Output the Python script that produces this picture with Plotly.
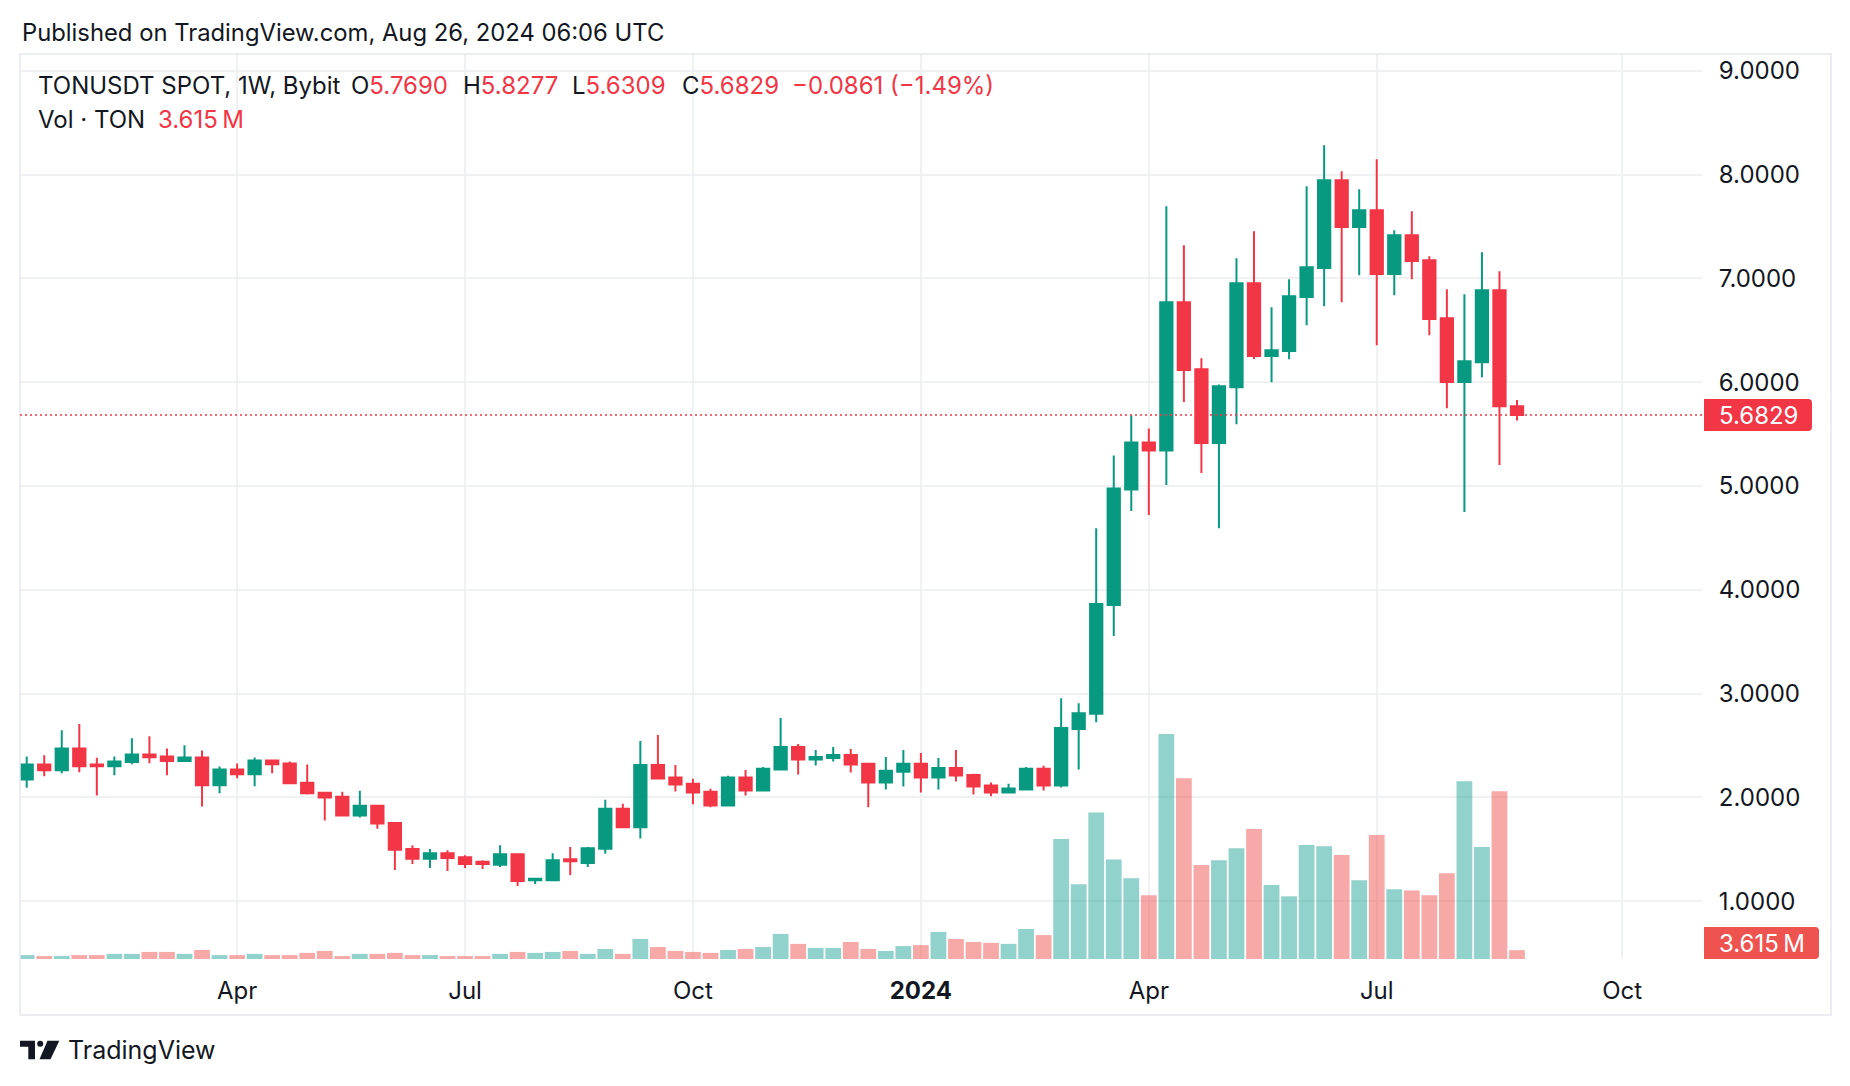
import pandas as pd
import plotly.graph_objects as go

# ---------------- data ----------------
weeks = pd.date_range("2023-01-09", periods=86, freq="7D")

opens = [2.172, 2.317, 2.262, 2.472, 2.317, 2.301, 2.340, 2.414, 2.395, 2.350,
         2.385, 2.117, 2.269, 2.223, 2.356, 2.327, 2.142, 2.045, 2.006, 1.825,
         1.919, 1.754, 1.502, 1.408, 1.463, 1.424, 1.379, 1.350, 1.453, 1.201,
         1.201, 1.405, 1.369, 1.505, 1.891, 1.712, 2.313, 2.192, 2.131, 2.054,
         1.923, 2.192, 2.067, 2.268, 2.486, 2.364, 2.380, 2.409, 2.323, 2.144,
         2.246, 2.323, 2.192, 2.284, 2.217, 2.115, 2.048, 2.077, 2.275, 2.115,
         2.658, 2.805, 3.853, 4.967, 5.420, 5.343, 6.770, 6.124, 5.414, 5.951,
         6.953, 6.253, 6.301, 6.821, 7.101, 7.945, 7.496, 7.656, 7.043, 7.415,
         7.174, 6.616, 6.002, 6.191, 6.885, 5.769]
highs = [2.395, 2.405, 2.647, 2.706, 2.382, 2.395, 2.570, 2.589, 2.472, 2.502,
         2.453, 2.298, 2.327, 2.385, 2.366, 2.346, 2.317, 2.055, 2.055, 2.065,
         1.929, 1.754, 1.540, 1.502, 1.492, 1.443, 1.395, 1.540, 1.463, 1.217,
         1.463, 1.521, 1.521, 1.977, 1.939, 2.543, 2.601, 2.313, 2.179, 2.083,
         2.208, 2.265, 2.294, 2.764, 2.514, 2.457, 2.486, 2.466, 2.323, 2.390,
         2.457, 2.428, 2.380, 2.457, 2.227, 2.144, 2.131, 2.294, 2.304, 2.955,
         2.907, 4.592, 5.294, 5.681, 5.555, 7.695, 7.319, 6.230, 5.979, 7.194,
         7.454, 6.721, 6.991, 7.888, 8.283, 8.032, 7.859, 8.148, 7.464, 7.647,
         7.213, 6.895, 6.847, 7.252, 7.068, 5.8277]
lows = [2.094, 2.204, 2.233, 2.243, 2.019, 2.214, 2.320, 2.330, 2.214, 2.350,
        1.913, 2.039, 2.184, 2.107, 2.233, 2.126, 2.029, 1.777, 1.825, 1.806,
        1.699, 1.301, 1.359, 1.320, 1.291, 1.320, 1.311, 1.330, 1.146, 1.165,
        1.191, 1.252, 1.330, 1.456, 1.712, 1.604, 2.182, 2.058, 1.933, 1.904,
        1.923, 2.019, 2.058, 2.268, 2.220, 2.307, 2.345, 2.240, 1.904, 2.077,
        2.105, 2.048, 2.077, 2.153, 2.029, 2.010, 2.038, 2.077, 2.067, 2.096,
        2.268, 2.724, 3.555, 4.759, 4.720, 5.009, 5.810, 5.125, 4.592, 5.594,
        6.224, 5.999, 6.220, 6.548, 6.731, 6.770, 7.030, 6.355, 6.837, 6.991,
        6.452, 5.748, 4.749, 6.047, 5.202, 5.6309]
closes = [2.317, 2.262, 2.472, 2.301, 2.301, 2.346, 2.414, 2.388, 2.350, 2.385,
          2.117, 2.269, 2.223, 2.356, 2.320, 2.136, 2.039, 2.000, 1.825, 1.919,
          1.748, 1.495, 1.408, 1.463, 1.417, 1.359, 1.359, 1.453, 1.194, 1.217,
          1.395, 1.385, 1.511, 1.890, 1.712, 2.313, 2.182, 2.125, 2.048, 1.923,
          2.192, 2.067, 2.275, 2.486, 2.364, 2.390, 2.409, 2.316, 2.144, 2.256,
          2.323, 2.192, 2.284, 2.211, 2.105, 2.048, 2.086, 2.275, 2.115, 2.668,
          2.811, 3.864, 4.977, 5.420, 5.343, 6.770, 6.118, 5.414, 5.960, 6.953,
          6.253, 6.307, 6.828, 7.107, 7.945, 7.496, 7.656, 7.043, 7.415, 7.168,
          6.609, 6.002, 6.201, 6.885, 5.769, 5.6829]
volumes_m = [1.6, 1.2, 1.2, 1.6, 1.6, 2.1, 2.1, 2.9, 2.9, 2.1,
             3.7, 1.6, 1.6, 2.1, 1.6, 1.6, 2.5, 3.3, 1.2, 2.1,
             2.1, 2.5, 1.6, 1.6, 1.2, 1.2, 1.2, 2.1, 2.9, 2.5,
             2.9, 3.3, 2.1, 4.1, 2.1, 8.2, 4.9, 3.3, 2.9, 2.5,
             3.7, 4.1, 4.9, 10.3, 6.2, 4.5, 4.5, 7.0, 4.1, 3.3,
             5.3, 5.7, 11.1, 8.2, 7.0, 6.6, 6.2, 12.3, 9.8, 49.2,
             30.6, 60.1, 40.8, 33.1, 26.1, 92.2, 74.1, 38.5, 40.5, 45.4,
             53.3, 30.3, 25.7, 46.7, 46.2, 42.6, 32.3, 50.8, 28.6, 28.1,
             26.1, 35.2, 72.9, 45.9, 68.8, 3.615]

tick_dates = ["2023-04-03", "2023-07-03", "2023-10-02", "2024-01-01",
              "2024-04-01", "2024-07-01", "2024-10-07"]
tick_labels = ["Apr", "Jul", "Oct", "<b>2024</b>", "Apr", "Jul", "Oct"]
price_ticks = [1, 2, 3, 4, 5, 6, 7, 8, 9]

symbol_text = "TONUSDT SPOT, 1W, Bybit"
last_open, last_high, last_low, last_close = "5.7690", "5.8277", "5.6309", "5.6829"
last_change = "\u22120.0861 (\u22121.49%)"
last_volume = "3.615\u202fM"
published = "Published on TradingView.com, Aug 26, 2024 06:06 UTC"

# ---------------- styles / layout geometry ----------------
UP = "#089981"
DOWN = "#F23645"
VOL_UP = "rgba(38,166,154,0.5)"
VOL_DOWN = "rgba(239,83,80,0.5)"
TXT = "#131722"
GRID = "#f0f1f3"
FONT = "Inter, Roboto, sans-serif"

OFF = 8                      # page body margin
FW, FH = 1834, 1070          # figure size
L, R, T, B = 20, 1702, 54, 959   # pane box in page pixels


def px(x):
    return (x - L) / (R - L)


def py(y):
    return (B - y) / (B - T)


# price axis: 9.0 at y=70.8px, 103.8 px per unit
p_top = 9 + (70.8 - T) / 103.8
p_bot = 9 - (B - 70.8) / 103.8
vol_top = (B - T) * 0.41

day_px = 17.533 / 7
x_start = weeks[0] - pd.Timedelta(days=(26.7 - L) / day_px)
x_end = weeks[0] + pd.Timedelta(days=(R - 26.7) / day_px)

vol_colors = [VOL_UP if c >= o else VOL_DOWN for o, c in zip(opens, closes)]

fig = go.Figure()
fig.add_trace(go.Bar(
    x=weeks, y=volumes_m, marker=dict(color=vol_colors, line=dict(width=0)),
    yaxis="y", showlegend=False, hoverinfo="skip"))
fig.add_trace(go.Candlestick(
    x=weeks, open=opens, high=highs, low=lows, close=closes, yaxis="y2",
    increasing=dict(line=dict(color=UP, width=2), fillcolor=UP),
    decreasing=dict(line=dict(color=DOWN, width=2), fillcolor=DOWN),
    whiskerwidth=0, showlegend=False))

shapes = []
shapes.append(dict(type="rect", xref="paper", yref="paper",
                   x0=px(20), x1=px(1831), y0=py(1015), y1=py(54),
                   line=dict(color="#e6e8ee", width=1.5), layer="above"))
shapes.append(dict(type="line", xref="paper", yref="y2", x0=0, x1=1,
                   y0=float(last_close), y1=float(last_close),
                   line=dict(color=DOWN, width=1.5, dash="2px,3px"), layer="above"))


def rbox(x0, x1, y0, y1, r=4):
    p = [f"M {px(x0)},{py(y0)}",
         f"L {px(x1 - r)},{py(y0)}",
         f"Q {px(x1)},{py(y0)} {px(x1)},{py(y0 + r)}",
         f"L {px(x1)},{py(y1 - r)}",
         f"Q {px(x1)},{py(y1)} {px(x1 - r)},{py(y1)}",
         f"L {px(x0)},{py(y1)} Z"]
    return " ".join(p)


price_y_px = 70.8 + (9 - float(last_close)) * 103.8
shapes.append(dict(type="path", xref="paper", yref="paper",
                   path=rbox(1704, 1812, price_y_px - 16, price_y_px + 16),
                   fillcolor=DOWN, line=dict(width=0), layer="above"))
shapes.append(dict(type="path", xref="paper", yref="paper",
                   path=rbox(1704, 1819, 927, 959),
                   fillcolor="#ef5350", line=dict(width=0), layer="above"))

logo_col = TXT
shapes.append(dict(type="path", xref="paper", yref="paper",
                   path=(f"M {px(20)},{py(1040.7)} L {px(35)},{py(1040.7)} L {px(35)},{py(1059.3)} "
                         f"L {px(28.3)},{py(1059.3)} L {px(28.3)},{py(1046.7)} L {px(20)},{py(1046.7)} Z"),
                   fillcolor=logo_col, line=dict(width=0)))
shapes.append(dict(type="circle", xref="paper", yref="paper",
                   x0=px(37.2), x1=px(43.2), y0=py(1046.8), y1=py(1040.8),
                   fillcolor=logo_col, line=dict(width=0)))
shapes.append(dict(type="path", xref="paper", yref="paper",
                   path=(f"M {px(47.5)},{py(1040.7)} L {px(59.3)},{py(1040.7)} L {px(50.5)},{py(1059.3)} "
                         f"L {px(39.5)},{py(1059.3)} Z"),
                   fillcolor=logo_col, line=dict(width=0)))

ann = []


def text(x, y, s, size=24, color=TXT, anchor="left"):
    ann.append(dict(xref="paper", yref="paper", x=px(x), y=py(y), text=s,
                    showarrow=False, xanchor=anchor, yanchor="middle",
                    font=dict(family=FONT, size=size, color=color)))


def red(s):
    return f"<span style='color:{DOWN}'>{s}</span>"


text(20, 32, published, size=23.8)
text(36, 85, symbol_text)
text(349, 85, "O" + red(last_open))
text(461, 85, "H" + red(last_high))
text(570, 85, "L" + red(last_low))
text(680, 85, "C" + red(last_close))
text(790, 85, red(last_change))
text(36, 119, "Vol \u00b7 TON")
text(156, 119, red(last_volume))
text(1717, price_y_px, last_close, size=24, color="white")
text(1717, 943, last_volume, size=24, color="white")
text(66, 1050, "TradingView", size=25, color=TXT)

fig.update_layout(
    width=FW, height=FH,
    margin=dict(l=L - OFF, r=OFF + FW - R, t=T - OFF, b=OFF + FH - B, pad=0),
    paper_bgcolor="white", plot_bgcolor="white",
    bargap=0.1, boxgap=0.3, boxgroupgap=0,
    shapes=shapes, annotations=ann,
    font=dict(family=FONT, color=TXT),
    hovermode=False,
    xaxis=dict(type="date", range=[x_start, x_end], rangeslider=dict(visible=False),
               tickvals=tick_dates, ticktext=tick_labels,
               showgrid=True, gridcolor=GRID, gridwidth=1.5, zeroline=False,
               showline=False, ticks="outside", ticklen=0, ticklabelstandoff=10,
               tickfont=dict(family=FONT, size=24, color=TXT)),
    yaxis=dict(range=[0, vol_top], visible=False, showgrid=False, fixedrange=True),
    yaxis2=dict(overlaying="y", side="right", range=[p_bot, p_top],
                tickvals=price_ticks, tickformat=".4f",
                showgrid=True, gridcolor=GRID, gridwidth=1.5, zeroline=False,
                showline=False, ticks="outside", ticklen=0, ticklabelstandoff=11,
                tickfont=dict(family=FONT, size=24, color=TXT)),
)

fig.write_html("out.html")
